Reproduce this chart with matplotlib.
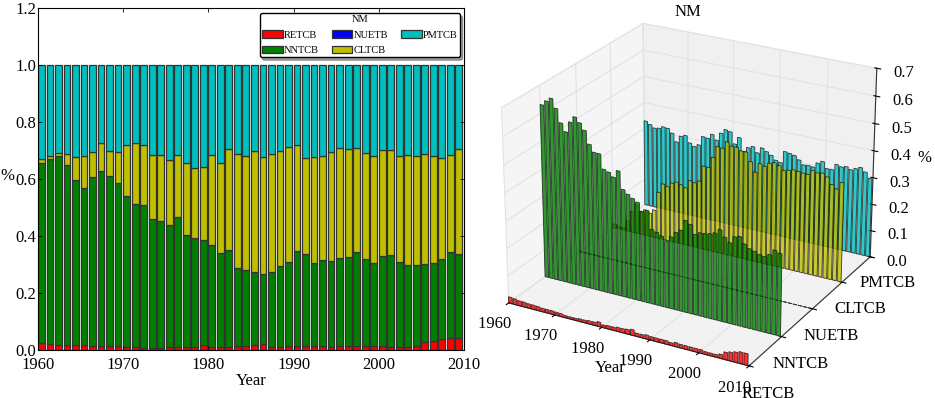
import numpy as np
import matplotlib
matplotlib.use('Agg')
import matplotlib.pyplot as plt

plt.rcParams['font.family'] = ['Liberation Serif', 'DejaVu Serif']

years = list(range(1960, 2010))
categories = ['RETCB', 'NNTCB', 'NUETB', 'CLTCB', 'PMTCB']
colors = ['r', 'g', 'b', 'y', 'c']
decades = [1960, 1970, 1980, 1990, 2000, 2010]

retcb = [.023, .021, .018, .018, .016, .016, .015, .013, .013, .013,
         .012, .011, .008, .008, .008, .010, .010, .012, .012, .017,
         .010, .012, .012, .015, .015, .017, .021, .012, .012, .015,
         .013, .013, .013, .013, .010, .015, .013, .013, .013, .013,
         .013, .010, .010, .010, .015, .027, .032, .037, .042, .042]
nntcb_top = [.655, .670, .680, .648, .598, .570, .607, .627, .610, .587,
             .540, .514, .510, .458, .452, .440, .466, .405, .392, .386,
             .369, .342, .350, .288, .282, .275, .265, .275, .295, .310,
             .347, .337, .305, .315, .313, .322, .327, .343, .320, .305,
             .330, .332, .310, .297, .297, .302, .304, .320, .345, .338]
nuetb = [0.0] * 50
cltcb_top = [.670, .680, .690, .687, .678, .680, .695, .725, .700, .693,
             .718, .728, .718, .683, .685, .667, .685, .655, .638, .642,
             .685, .657, .706, .688, .680, .700, .678, .688, .698, .713,
             .718, .673, .676, .680, .693, .708, .706, .708, .690, .680,
             .703, .703, .680, .685, .680, .688, .680, .672, .685, .705]

re_ = np.array(retcb)
nn = np.array(nntcb_top) - re_
nu = np.array(nuetb)
cl = np.array(cltcb_top) - np.array(nntcb_top)
pm = 1.0 - np.array(cltcb_top)
series = [re_, nn, nu, cl, pm]

fig = plt.figure(figsize=(9.35, 3.98), dpi=100)
W, H = 935.0, 398.0

# ---------- left: stacked bars
ax = fig.add_axes([38 / W, 1 - 350 / H, 426 / W, 342 / H])
bottom = np.zeros(50)
for s, c, name in zip(series, colors, categories):
    ax.bar(years, s, width=0.8, bottom=bottom, align='edge', color=c,
           edgecolor='#333333', linewidth=0.9, label=name)
    bottom = bottom + s
ax.set_xlim(1960, 2010)
ax.set_ylim(0, 1.2)
ax.set_xticks(decades)
ax.set_yticks(np.arange(0, 1.21, 0.2))
ax.tick_params(direction='in', top=True, right=True, labelsize=12, length=3,
               width=0.6)
ax.tick_params(axis='y', pad=1.5)
ax.tick_params(axis='x', pad=5)
for sp in ax.spines.values():
    sp.set_linewidth(0.8)
ax.set_xlabel('Year', fontsize=12, labelpad=0)
ax.set_ylabel('%', fontsize=12, rotation=0)
ax.yaxis.set_label_coords(-0.072, 0.485)
leg = ax.legend(handles=[ax.containers[i] for i in [0, 1, 2, 3, 4]],
                labels=categories, title='NM', ncol=3, fontsize=7.5,
                title_fontsize=7.5, loc='upper right',
                bbox_to_anchor=(0.99, 0.985), borderaxespad=0,
                fancybox=True, shadow=True, framealpha=1,
                handlelength=2.0, handletextpad=0.1, columnspacing=1.25,
                labelspacing=0.6, borderpad=0.2, edgecolor='black')

# ---------- right: 3D bars
ax3 = fig.add_axes([0.5085, -0.0125, 0.4535, 1.065], projection='3d')
ax3.set_box_aspect((4, 4, 3.1))
ax3.view_init(elev=24, azim=-61)
for k, (s, c) in enumerate(zip(series, colors)):
    ax3.bar(years, s, zs=k, zdir='y', width=0.8, align='edge', color=c,
            edgecolor='#111111', linewidth=0.6, alpha=0.8)
ax3.set_xlim(1960, 2010)
ax3.set_ylim(0, 4)
ax3.set_zlim(0, 0.7)
ax3.set_xticks(decades)
ax3.set_xticklabels([f'{d}    ' for d in decades])
ax3.set_yticks(range(5))
ax3.set_yticklabels(categories)
ax3.set_zticks(np.arange(0, 0.71, 0.1))
ax3.tick_params(labelsize=12, pad=0)
ax3.tick_params(axis='x', pad=-1)
ax3.tick_params(axis='y', pad=4)
ax3.tick_params(axis='z', pad=4)
ax3.set_xlabel('Year', fontsize=12, labelpad=-3)
ax3.set_zlabel('%', fontsize=12, labelpad=2)
ax3.zaxis.set_rotate_label(False)
ax3.patch.set_alpha(0)
fig.text(688 / W, 1 - 12 / H, 'NM', fontsize=12, ha='center', va='center')
for axis, col in zip((ax3.xaxis, ax3.yaxis, ax3.zaxis),
                     ((.96, .96, .96, 1), (.94, .94, .94, 1), (.95, .95, .95, 1))):
    axis.set_pane_color(col)
    axis.pane.set_edgecolor('#eeeeee')
    axis.line.set_linewidth(0.8)
    axis.line.set_color('#333333')
    axis._axinfo['grid']['color'] = '#e2e2e2'
    axis._axinfo['grid']['linewidth'] = 0.8

fig.savefig('out.png', dpi=100)
